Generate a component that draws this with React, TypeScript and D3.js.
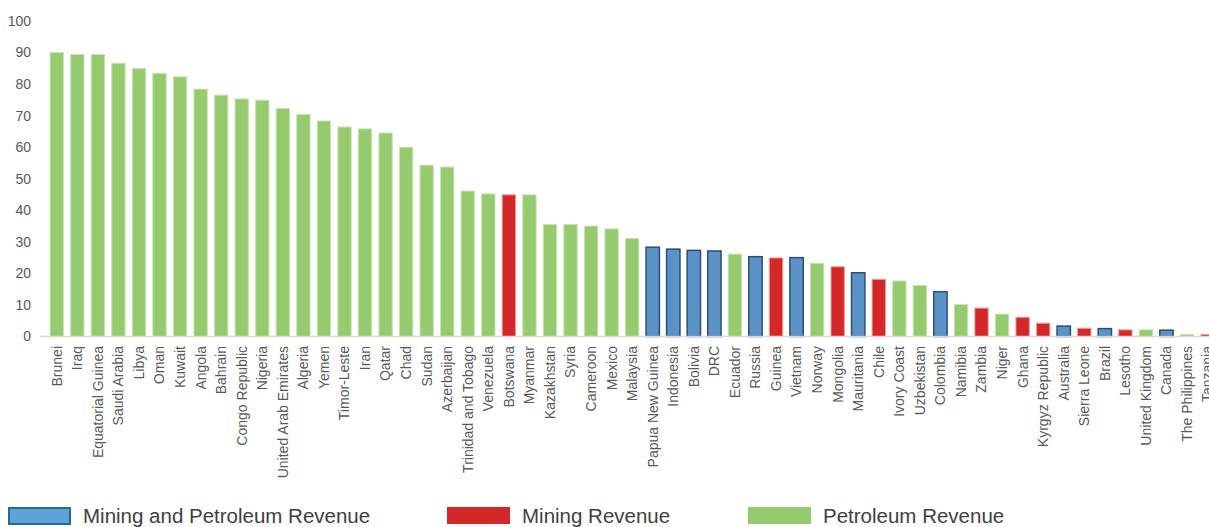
import React from "react";
import * as d3 from "d3";

const categories: string[] = [
  "Brunei", "Iraq", "Equatorial Guinea", "Saudi Arabia", "Libya", "Oman", "Kuwait", "Angola",
  "Bahrain", "Congo Republic", "Nigeria", "United Arab Emirates", "Algeria", "Yemen", "Timor-Leste",
  "Iran", "Qatar", "Chad", "Sudan", "Azerbaijan", "Trinidad and Tobago", "Venezuela", "Botswana",
  "Myanmar", "Kazakhstan", "Syria", "Cameroon", "Mexico", "Malaysia", "Papua New Guinea", "Indonesia",
  "Bolivia", "DRC", "Ecuador", "Russia", "Guinea", "Vietnam", "Norway", "Mongolia", "Mauritania",
  "Chile", "Ivory Coast", "Uzbekistan", "Colombia", "Namibia", "Zambia", "Niger", "Ghana",
  "Kyrgyz Republic", "Australia", "Sierra Leone", "Brazil", "Lesotho", "United Kingdom", "Canada",
  "The Philippines", "Tanzania",
];

const values: number[] = [
  90.0, 89.4, 89.4, 86.6, 84.9, 83.4, 82.3, 78.4,
  76.5, 75.3, 74.9, 72.3, 70.4, 68.3, 66.4,
  65.8, 64.5, 60.0, 54.3, 53.7, 46.1, 45.2, 44.9,
  44.9, 35.5, 35.5, 35.0, 34.1, 31.1, 28.3, 27.7,
  27.3, 27.1, 26.1, 25.3, 24.9, 25.0, 23.2, 22.1, 20.2,
  18.1, 17.6, 16.2, 14.2, 10.1, 9.0, 7.1, 6.1,
  4.2, 3.3, 2.6, 2.5, 2.1, 2.1, 2.0,
  0.6, 0.6,
];

// P = petroleum, M = mining, B = mining and petroleum
const revenueType: string[] = [
  "P", "P", "P", "P", "P", "P", "P", "P",
  "P", "P", "P", "P", "P", "P", "P",
  "P", "P", "P", "P", "P", "P", "P", "M",
  "P", "P", "P", "P", "P", "P", "B", "B",
  "B", "B", "P", "B", "M", "B", "P", "M", "B",
  "M", "P", "P", "B", "P", "M", "P", "M",
  "M", "B", "M", "B", "M", "P", "B",
  "P", "M",
];

const yTicks: number[] = [0, 10, 20, 30, 40, 50, 60, 70, 80, 90, 100];

const legendItems = [
  { key: "B", label: "Mining and Petroleum Revenue" },
  { key: "M", label: "Mining Revenue" },
  { key: "P", label: "Petroleum Revenue" },
];

const fillColor: Record<string, string> = { P: "#95CB6E", M: "#D42727", B: "#5B92C8" };
const strokeColor: Record<string, string> = { P: "#C8E3B4", M: "#EE9A9A", B: "#2C4F72" };

export default function App() {
  const W = 1209;
  const H = 527;
  const step = 20.55;
  const x0 = 46.5;
  const x = d3
    .scaleBand<string>()
    .domain(categories)
    .range([x0, x0 + step * categories.length])
    .paddingInner(0.35)
    .paddingOuter(0.175);
  const y = d3.scaleLinear().domain([0, 100]).range([336.5, 21]);
  const bw = x.bandwidth();

  const legendX = [8, 447, 748];

  return (
    <svg
      width={W}
      height={H}
      style={{ position: "absolute", left: 0, top: 0, background: "#fff" }}
      fontFamily="'Liberation Sans', Arial, sans-serif"
    >
      {yTicks.map((t) => (
        <text
          key={t}
          x={31}
          y={y(t)}
          dy="0.35em"
          textAnchor="end"
          fontSize={14}
          fill="#595959"
        >
          {t}
        </text>
      ))}
      {categories.map((c, i) => {
        const tp = revenueType[i];
        const bx = x(c)!;
        return (
          <rect
            key={c}
            x={bx}
            y={y(values[i])}
            width={bw}
            height={y(0) - y(values[i])}
            fill={fillColor[tp]}
            stroke={strokeColor[tp]}
            strokeWidth={tp === "B" ? 1.5 : 1}
          />
        );
      })}
      <line x1={40} x2={W} y1={y(0)} y2={y(0)} stroke="#D9D9D9" strokeWidth={1.5} />
      {categories.map((c) => {
        const cx = x(c)! + bw / 2;
        return (
          <text
            key={"l" + c}
            transform={`translate(${cx},${346}) rotate(-90)`}
            dy="0.35em"
            textAnchor="end"
            fontSize={14}
            fill="#595959"
          >
            {c}
          </text>
        );
      })}
      {legendItems.map((it, i) => (
        <g key={it.key} transform={`translate(${legendX[i]},507)`}>
          <rect
            x={it.key === "B" ? 1 : 0}
            y={it.key === "B" ? 1 : 0}
            width={it.key === "B" ? 61 : 63}
            height={it.key === "B" ? 16 : 17}
            fill={it.key === "B" ? "#5BA3D9" : fillColor[it.key]}
            stroke={it.key === "B" ? "#2A6A8E" : "none"}
            strokeWidth={2}
          />
          <text x={75} y={16} fontSize={20.5} fill="#404040">
            {it.label}
          </text>
        </g>
      ))}
    </svg>
  );
}
